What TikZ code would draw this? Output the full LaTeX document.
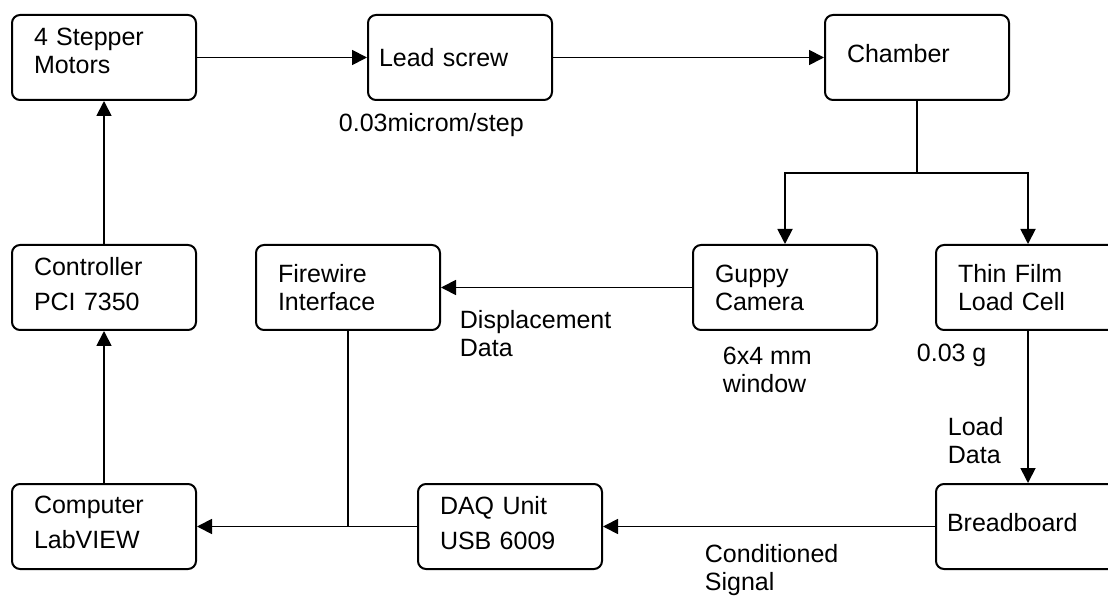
\documentclass[tikz,border=0pt]{standalone}
\usepackage{fontspec}
\setmainfont{Liberation Sans}
\usetikzlibrary{arrows.meta}

\tikzset{
  blk/.style={draw, line width=1pt, rounded corners=4pt, minimum width=92pt, minimum height=42.5pt,
    text width=70pt, inner xsep=11pt, inner ysep=0pt, align=left, font=\fontsize{12.5}{14}\selectfont},
  narrow/.style={text width=81pt, inner xsep=5.5pt},
  loose/.style={font=\fontsize{12.5}{17.5}\selectfont},
  lbl/.style={anchor=west, inner sep=0pt, align=left, font=\fontsize{12.5}{14}\selectfont},
  >={Triangle[length=7.5pt,width=7.5pt]}
}

\begin{document}
\begin{tikzpicture}[x=0.5pt, y=-0.5pt, line width=0.9pt]
      \useasboundingbox (0,0) rectangle (1108,598);
      \fill[white] (0,0) rectangle (1108,598);
      \clip (0,0) rectangle (1108,598);
      % top row
      \node[blk, text height=2pt] (stepper) at (104,57.5) {4 Stepper\\Motors};
      \node[blk, narrow] (lead) at (460,57.5) {Lead screw};
      \node[blk, text depth=4pt] (chamber) at (917,57.5) {Chamber};
      % middle row
      \node[blk, loose, text height=6pt] (controller) at (104,287.5) {Controller\\PCI 7350};
      \node[blk] (firewire) at (348,287.5) {Firewire\\Interface};
      \node[blk] (guppy) at (785,287.5) {Guppy\\Camera};
      \node[blk] (thinfilm) at (1028,287.5) {Thin Film\\Load Cell};
      % bottom row
      \node[blk, loose, text height=5pt] (computer) at (104,526.5) {Computer\\LabVIEW};
      \node[blk, loose, text height=6pt] (daq) at (510,526.5) {DAQ Unit\\USB 6009};
      \node[blk, narrow, text depth=4pt] (breadboard) at (1028,526.5) {Breadboard};
      % labels
      \node[lbl] (lblstep) at (338,125) {0.03microm/step};
      \node[lbl] (lbldisp) at (459,334) {Displacement\\Data};
      \node[lbl] (lblwin) at (722,370) {6x4 mm\\window};
      \node[lbl] (lblgram) at (916,355) {0.03 g};
      \node[lbl] (lblload) at (947,441) {Load\\Data};
      \node[lbl] (lblsig) at (704,570) {Conditioned\\Signal};
      % connectors
      \coordinate (split) at (917,173);
      \coordinate (join) at (firewire |- computer);
      \draw[->] (stepper) -- (lead);
      \draw[->] (lead) -- (chamber);
      \draw[->] (computer) -- (controller);
      \draw[->] (controller) -- (stepper);
      \draw (chamber) -- (split);
      \draw[->] (split) -| (guppy);
      \draw[->] (split) -| (thinfilm);
      \draw[->] (guppy) -- (firewire);
      \draw[->] (thinfilm) -- (breadboard);
      \draw[->] (breadboard) -- (daq);
      \draw[->] (daq) -- (computer);
      \draw (firewire) -- (join);
\end{tikzpicture}
\end{document}
